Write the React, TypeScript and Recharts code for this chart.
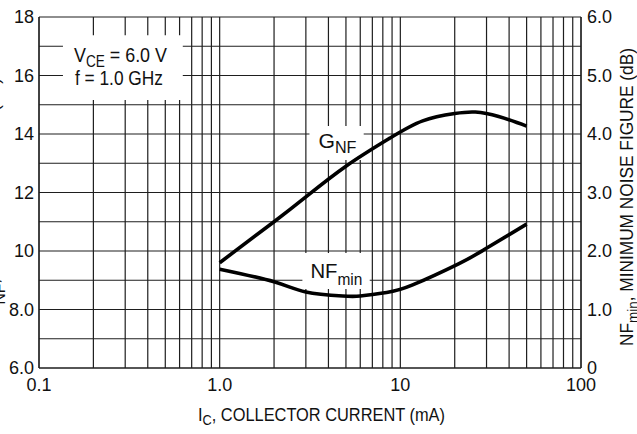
import React from 'react';
import { LineChart, Line, XAxis, YAxis, CartesianGrid, ReferenceArea } from 'recharts';

// Collector current grid: 1-2-3...9 per decade, 0.1 mA to 100 mA
const currentTicks = [
  0.1, 0.2, 0.3, 0.4, 0.5, 0.6, 0.7, 0.8, 0.9,
  1, 2, 3, 4, 5, 6, 7, 8, 9,
  10, 20, 30, 40, 50, 60, 70, 80, 90, 100,
];
const currentLabels: Record<number, string> = { 0.1: '0.1', 1: '1.0', 10: '10', 100: '100' };

// Associated gain axis (dB), left
const gainTicks = [6, 7, 8, 9, 10, 11, 12, 13, 14, 15, 16, 17, 18];
const gainLabels: Record<number, string> = { 6: '6.0', 8: '8.0', 10: '10', 12: '12', 14: '14', 16: '16', 18: '18' };

// Minimum noise figure axis (dB), right
const noiseTicks = [0, 0.5, 1, 1.5, 2, 2.5, 3, 3.5, 4, 4.5, 5, 5.5, 6];
const noiseLabels: Record<number, string> = { 0: '0', 1: '1.0', 2: '2.0', 3: '3.0', 4: '4.0', 5: '5.0', 6: '6.0' };

// G_NF, associated gain (dB) vs collector current (mA)
const gainCurrent = [1.0, 2.0, 3.0, 5.0, 8.7, 13.3, 20, 26, 35, 50];
const gainValues = [9.6, 11.0, 11.85, 12.9, 13.85, 14.45, 14.7, 14.75, 14.6, 14.27];

// NF_min, minimum noise figure (dB) vs collector current (mA)
const noiseCurrent = [1.0, 2.0, 3.0, 4.8, 6.0, 8.4, 11.7, 21, 29, 50];
const noiseValues = [1.69, 1.475, 1.3, 1.23, 1.23, 1.29, 1.42, 1.78, 2.02, 2.46];

const gainData = gainCurrent.map((ic, i) => ({ ic, g: gainValues[i] }));
const noiseData = noiseCurrent.map((ic, i) => ({ ic, nf: noiseValues[i] }));

const FONT = '"Liberation Sans", Arial, sans-serif';
const INK = '#111';
const GRID = '#1e1e1e';

type VB = { x?: number; y?: number; width?: number; height?: number };

const ConditionsText = (props: { viewBox?: VB }) => {
  const x = props.viewBox?.x ?? 63;
  const y = props.viewBox?.y ?? 35;
  return (
    <g fontFamily={FONT} fill={INK}>
      <text x={x + 11} y={y + 27} fontSize={21} textLength={93} lengthAdjust="spacingAndGlyphs">
        V<tspan fontSize={16} dy={5}>CE</tspan>
        <tspan dy={-5}> = 6.0 V</tspan>
      </text>
      <text x={x + 12} y={y + 50} fontSize={21} textLength={88} lengthAdjust="spacingAndGlyphs">
        f = 1.0 GHz
      </text>
    </g>
  );
};

const GainText = (props: { viewBox?: VB }) => {
  const x = props.viewBox?.x ?? 309;
  const y = props.viewBox?.y ?? 126;
  return (
    <text x={x + 9} y={y + 22} fontFamily={FONT} fill={INK} fontSize={21} textLength={38} lengthAdjust="spacingAndGlyphs">
      G<tspan fontSize={16} dy={5}>NF</tspan>
    </text>
  );
};

const NoiseText = (props: { viewBox?: VB }) => {
  const x = props.viewBox?.x ?? 302;
  const y = props.viewBox?.y ?? 253;
  return (
    <text x={x + 8} y={y + 25} fontFamily={FONT} fill={INK} fontSize={21} textLength={52} lengthAdjust="spacingAndGlyphs">
      NF<tspan fontSize={16} dy={7}>min</tspan>
    </text>
  );
};

const CurrentTitle = () => (
  <text x={198} y={421} fontFamily={FONT} fill={INK} fontSize={18} textLength={247} lengthAdjust="spacingAndGlyphs">
    I<tspan fontSize={14} dy={4}>C</tspan>
    <tspan dy={-4}>, COLLECTOR CURRENT (mA)</tspan>
  </text>
);

const GainTitle = () => (
  <text
    transform="translate(-1, 318) rotate(-90)"
    fontFamily={FONT}
    fill={INK}
    fontSize={18}
    textLength={240}
    lengthAdjust="spacingAndGlyphs"
  >
    G<tspan fontSize={16} dy={6}>NF</tspan>
    <tspan dy={-6}>, ASSOCIATED GAIN (dB)</tspan>
  </text>
);

const NoiseTitle = () => (
  <text
    transform="translate(633, 197) rotate(-90)"
    textAnchor="middle"
    fontFamily={FONT}
    fill={INK}
    fontSize={18}
    textLength={298}
    lengthAdjust="spacingAndGlyphs"
  >
    NF<tspan fontSize={14} dy={5}>min</tspan>
    <tspan dy={-5}>, MINIMUM NOISE FIGURE (dB)</tspan>
  </text>
);

const tickStyle = { fontFamily: FONT, fontSize: 18, fill: INK };

export default function App() {
  return (
    <div style={{ position: 'fixed', left: 0, top: 0, width: 637, height: 434, background: '#fff' }}>
      <LineChart width={637} height={434} margin={{ top: 17, right: 0, bottom: 0, left: 0 }}>
        <CartesianGrid
          xAxisId="ic"
          yAxisId="g"
          stroke={GRID}
          strokeWidth={1.2}
          strokeOpacity={1}
        />
        <XAxis
          xAxisId="ic"
          dataKey="ic"
          type="number"
          scale="log"
          domain={[0.1, 100]}
          ticks={currentTicks}
          interval={0}
          tickFormatter={(v: number) => currentLabels[v] ?? ''}
          tick={tickStyle}
          tickLine={false}
          tickSize={8}
          tickMargin={2}
          height={66}
          axisLine={{ stroke: GRID, strokeWidth: 1.2 }}
          allowDataOverflow
          label={<CurrentTitle />}
        />
        <YAxis
          yAxisId="g"
          orientation="left"
          type="number"
          domain={[6, 18]}
          ticks={gainTicks}
          interval={0}
          tickFormatter={(v: number) => gainLabels[v] ?? ''}
          tick={tickStyle}
          tickLine={false}
          tickSize={3}
          tickMargin={2}
          width={39}
          axisLine={{ stroke: GRID, strokeWidth: 1.2 }}
          label={<GainTitle />}
        />
        <YAxis
          yAxisId="nf"
          orientation="right"
          type="number"
          domain={[0, 6]}
          ticks={noiseTicks}
          interval={0}
          tickFormatter={(v: number) => noiseLabels[v] ?? ''}
          tick={tickStyle}
          tickLine={false}
          tickSize={4}
          tickMargin={2}
          width={56}
          axisLine={{ stroke: GRID, strokeWidth: 1.2 }}
          label={<NoiseTitle />}
        />
        <ReferenceArea
          xAxisId="ic"
          yAxisId="g"
          x1={0.1357}
          x2={0.625}
          y1={15.16}
          y2={17.38}
          fill="#fff"
          fillOpacity={1}
          stroke="none"
          label={<ConditionsText />}
        />
        <ReferenceArea
          xAxisId="ic"
          yAxisId="g"
          x1={3.14}
          x2={6.27}
          y1={13.11}
          y2={14.27}
          fill="#fff"
          fillOpacity={1}
          stroke="none"
          label={<GainText />}
        />
        <ReferenceArea
          xAxisId="ic"
          yAxisId="g"
          x1={2.87}
          x2={6.77}
          y1={8.7}
          y2={9.93}
          fill="#fff"
          fillOpacity={1}
          stroke="none"
          label={<NoiseText />}
        />
        <Line
          xAxisId="ic"
          yAxisId="g"
          data={gainData}
          dataKey="g"
          type="natural"
          stroke="#000"
          strokeWidth={3.6}
          dot={false}
          isAnimationActive={false}
        />
        <Line
          xAxisId="ic"
          yAxisId="nf"
          data={noiseData}
          dataKey="nf"
          type="natural"
          stroke="#000"
          strokeWidth={3.6}
          dot={false}
          isAnimationActive={false}
        />
      </LineChart>
    </div>
  );
}
